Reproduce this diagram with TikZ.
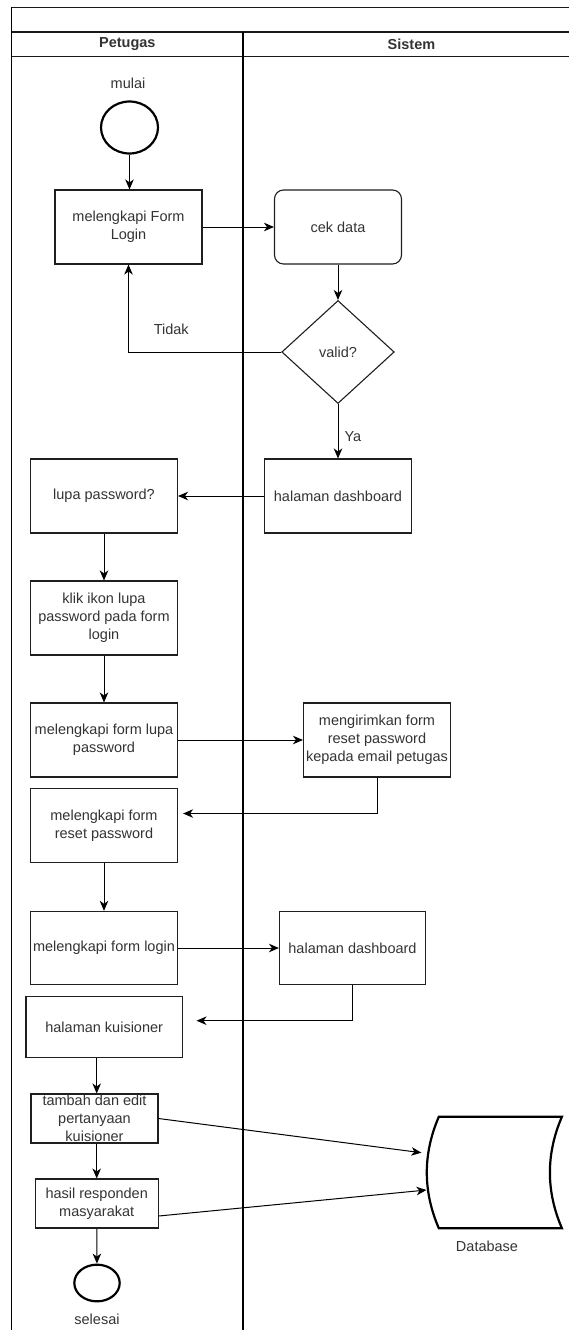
\documentclass[tikz,border=0pt]{standalone}
\usepackage{fontspec}
\setmainfont{Liberation Sans}
\usepackage{tikz, xcolor}
\usetikzlibrary{shapes.geometric, positioning}
\usetikzlibrary{arrows.meta}
\usetikzlibrary{calc}

\definecolor{txt}{HTML}{333333}

\begin{document}
\begin{tikzpicture}[x=1pt, y=-1pt, font = \fontsize{14.5}{18}\selectfont,
    lane/.style={black, line width=1.2pt},
    laneh/.style={black!90, line width=1.5pt},
    proc/.style={draw, black!88, line width=1.1pt, inner sep=0, minimum width=147pt, minimum height=74pt, align=center, text=txt},
    cek/.style={proc, rounded corners=9pt, minimum width=127pt},
    decision/.style={draw, black!88, diamond, line width=1.1pt, inner sep=0, minimum width=112.5pt, minimum height=103pt, text=txt},
    terminal/.style={draw, black, ellipse, line width=2.2pt, inner sep=0},
    store/.style={black, line width=2.2pt},
    lbl/.style={inner sep=0, text=txt},
    head/.style={inner sep=0, text=txt, font=\fontsize{14.5}{18}\selectfont\bfseries},
    arrow/.style={-{Stealth[length=10pt, width=8.5pt, inset=3pt]}, black, line width=1pt},
    ]

    \useasboundingbox (0,0) rectangle (569,1330);

    \coordinate (tl) at (11.6,7.3);
    \coordinate (tr) at (569,7.3);
    \coordinate (bl) at (11.6,1330);

    % swimlanes
    \draw[laneh] (tr) -- (tl);
    \draw[lane] (tl) -- (bl);
    \draw[laneh] (11.6,32) -- (569,32);
    \draw[laneh] (11.6,56.5) -- (569,56.5);
    \draw[lane] (243,32) -- (243,1330);
    \node(petugas)[head] at (127.3,44){Petugas};
    \node(sistem)[head] at (411.5,44){Sistem};

    \node(mulai)[lbl] at (128,83){mulai};
    \node(start)[terminal, minimum width=57pt, minimum height=52pt] at (129.5,127.5){};
    \node(login)[proc] at (128.5,227){melengkapi Form\\Login};
    \node(cek)[cek] at (338,227){cek data};
    \node(valid)[decision] at (338,352){valid?};
    \node(dash)[proc] at (338,496){halaman dashboard};
    \node(lupa)[proc, left of = dash, node distance=234pt]{lupa password?};
    \node(klik)[proc, below of = lupa, node distance=122pt]{klik ikon lupa\\password pada form\\login};
    \node(formlupa)[proc, below of = klik, node distance=122pt]{melengkapi form lupa\\password};
    \node(kirim)[proc, right of = formlupa, node distance=273pt]{mengirimkan form\\reset password\\kepada email petugas};
    \node(reset)[proc, below of = formlupa, node distance=85.5pt, minimum height=73.3pt]{melengkapi form\\reset password};
    \node(login2)[proc, below of = reset, node distance=122.5pt, minimum height=73.3pt]{melengkapi form login};
    \node(dash2)[proc, right of = login2, node distance=248.5pt, minimum width=146pt, minimum height=73.3pt]{halaman dashboard};
    \node(kuis)[proc, minimum width=156.5pt, minimum height=60.6pt] at (104.2,1027){halaman kuisioner};
    \node(tambah)[proc, minimum width=127pt, minimum height=49pt] at (94.5,1118.5){tambah dan edit\\pertanyaan\\kuisioner};
    \node(hasil)[proc, minimum width=123pt, minimum height=49pt] at (96.7,1203.5){hasil responden\\masyarakat};
    \node(selesai)[terminal, minimum width=45.4pt, minimum height=36.7pt] at (97,1283){};
    \node(selesaitxt)[lbl] at (97,1319){selesai};
    \node(db)[inner sep=0, minimum width=146.7pt, minimum height=111pt] at (488.35,1172.5){};
    \node(dbtxt)[lbl] at (487,1246){Database};

    \draw[store] ([xshift=24pt]db.north west) -- (db.north east)
        .. controls ([xshift=-16pt, yshift=-37pt]db.north east) and ([xshift=-16pt, yshift=37pt]db.south east) .. (db.south east)
        -- ([xshift=24pt]db.south west)
        .. controls ([xshift=8pt, yshift=37pt]db.south west) and ([xshift=8pt, yshift=-37pt]db.north west) .. ([xshift=24pt]db.north west) -- cycle;

    \draw[arrow](start) -- (start |- login.north);
    \draw[arrow](login) -- (cek);
    \draw[arrow](cek) -- (valid);
    \draw[arrow](valid.west) -| (login.south) node[lbl, above=17pt, pos=0.36]{Tidak};
    \draw[arrow](valid) -- (dash) node[lbl, right=6pt, pos=0.6]{Ya};
    \draw[arrow](dash) -- (lupa);
    \draw[arrow](lupa) -- (klik);
    \draw[arrow](klik) -- (formlupa);
    \draw[arrow](formlupa) -- (kirim);
    \draw[arrow](kirim.south) |- ([xshift=5pt, yshift=12pt]reset.east);
    \draw[arrow](reset) -- (login2);
    \draw[arrow](login2) -- (dash2);
    \draw[arrow](dash2.south) |- ([xshift=13.5pt, yshift=6.3pt]kuis.east);
    \draw[arrow](kuis.south -| hasil) -- (tambah.north -| hasil);
    \draw[arrow](tambah.south -| hasil) -- (hasil.north);
    \draw[arrow](hasil) -- (selesai);
    \draw[arrow](tambah.east) -- ([xshift=6.6pt, yshift=19.8pt]db.west);
    \draw[arrow]([yshift=-12.5pt]hasil.east) -- ([xshift=11.7pt, yshift=-17.5pt]db.west);

\end{tikzpicture}
\end{document}
